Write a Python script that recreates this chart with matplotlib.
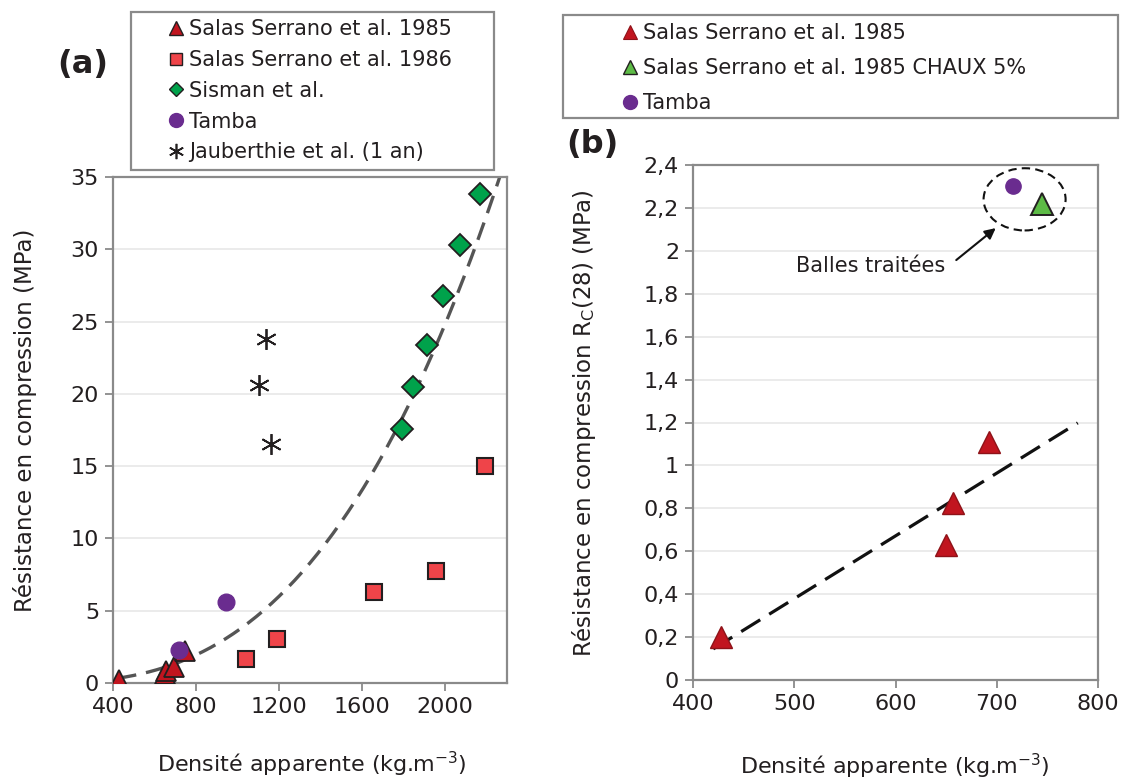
import numpy as np
import matplotlib
matplotlib.use("Agg")
from matplotlib import pyplot as plt
from matplotlib.patches import Ellipse, Rectangle
from matplotlib.lines import Line2D

# ---- panel (a) data ----
salas85_x = [428, 650, 657, 693, 745]
salas85_y = [0.2, 0.63, 0.83, 1.11, 2.22]
salas86_x = [1040, 1191, 1660, 1957, 2194]
salas86_y = [1.65, 3.05, 6.3, 7.75, 15.0]
sisman_x = [1793, 1848, 1914, 1991, 2075, 2170]
sisman_y = [17.6, 20.5, 23.4, 26.8, 30.3, 33.8]
tamba_x = [716, 945]
tamba_y = [2.3, 5.6]
jaub_x = [1138, 1105, 1164]
jaub_y = [23.8, 20.6, 16.5]
# power-law trend line (a): y = coef * (x / x_ref) ** expo
trend_a_coef = 35.0
trend_a_ref = 2265.0
trend_a_expo = 2.78
trend_a_range = (425, 2265)

# ---- panel (b) data ----
b_salas_x = [428, 650, 657, 692]
b_salas_y = [0.2, 0.63, 0.825, 1.11]
b_chaux_x = [745]
b_chaux_y = [2.22]
b_tamba_x = [716]
b_tamba_y = [2.30]
trend_b_range = (420, 780)

TXT = "#231F20"
GREY = "#8A8A8A"
GRID = "#E9E9E9"
RED_DARK = "#C1151F"
RED_SQ = "#EF4449"
GREEN = "#00A24B"
GREEN_L = "#5DBB46"
PURPLE = "#6A2C8F"

plt.rcParams['font.family'] = ['DejaVu Sans']

W, H = 1122, 780
fig = plt.figure(figsize=(W / 100, H / 100), dpi=100)


def fx(px):
    return px / W


def fy(py):
    return 1 - py / H


def style_axes(ax):
    for s in ax.spines.values():
        s.set_color(GREY)
        s.set_linewidth(1.6)
    ax.tick_params(axis='both', direction='out', length=6, width=1.3,
                   color=GREY, labelcolor=TXT, labelsize=16, pad=4)
    ax.grid(axis='y', color=GRID, linewidth=1.3)
    ax.set_axisbelow(True)


# ================= panel (a) =================
ax1 = fig.add_axes([fx(113), fy(683), fx(507) - fx(113), fy(177) - fy(683)])
style_axes(ax1)

xs = np.linspace(trend_a_range[0], trend_a_range[1], 200)
ax1.plot(xs, trend_a_coef * (xs / trend_a_ref) ** trend_a_expo, color="#555555",
         lw=2.4, dashes=(5.5, 3), zorder=2)

h1, = ax1.plot(salas85_x, salas85_y, '^', ms=15, mfc=RED_DARK, mec="#231F20", mew=1.3,
               ls='none', zorder=3, label="Salas Serrano et al. 1985")
h2, = ax1.plot(salas86_x, salas86_y, 's', ms=11, mfc=RED_SQ, mec="#231F20", mew=1.5,
               ls='none', zorder=3, label="Salas Serrano et al. 1986")
h3, = ax1.plot(sisman_x, sisman_y, 'D', ms=11, mfc=GREEN, mec="#231F20", mew=1.3,
               ls='none', zorder=3, label="Sisman et al.")
h4, = ax1.plot(tamba_x, tamba_y, 'o', ms=12, mfc=PURPLE, mec=PURPLE, mew=1,
               ls='none', zorder=4, label="Tamba")
h5, = ax1.plot(jaub_x, jaub_y, marker=(6, 2, 0), ms=15, mec="#231F20", mew=1.3,
               ls='none', zorder=3, label="Jauberthie et al. (1 an)")

ax1.set_xlim(400, 2300)
ax1.set_ylim(0, 35)
ax1.set_xticks([400, 800, 1200, 1600, 2000])
ax1.set_yticks(np.arange(0, 36, 5))

leg_handles = [
    Line2D([], [], marker='^', ms=10, mfc=RED_DARK, mec="#231F20", mew=1, ls='none'),
    Line2D([], [], marker='s', ms=9, mfc=RED_SQ, mec="#231F20", mew=1, ls='none'),
    Line2D([], [], marker='D', ms=7.5, mfc=GREEN, mec="#231F20", mew=1, ls='none'),
    Line2D([], [], marker='o', ms=10, mfc=PURPLE, mec=PURPLE, ls='none'),
    Line2D([], [], marker=(6, 2, 0), ms=11, mec="#231F20", mew=1.2, ls='none'),
]
leg_labels = [h1.get_label(), h2.get_label(), h3.get_label(), h4.get_label(), h5.get_label()]
fig.legend(leg_handles, leg_labels, loc='upper left', bbox_to_anchor=(fx(168), fy(19)),
           frameon=False, fontsize=15, borderpad=0, borderaxespad=0,
           handlelength=0.75, handletextpad=0.25, labelspacing=0.52, labelcolor=TXT)
fig.patches.append(Rectangle((fx(131), fy(170)), fx(494) - fx(131), fy(12) - fy(170),
                             transform=fig.transFigure, fill=False, ec=GREY, lw=1.6))

fig.text(fx(83), fy(65), "(a)", fontsize=23, fontweight='bold', color=TXT,
         ha='center', va='center')
fig.text(fx(25), fy(420), "Résistance en compression (MPa)", rotation=90,
         fontsize=16.5, color=TXT, ha='center', va='center')
fig.text(fx(312), fy(764), "Densité apparente (kg.m$^{-3}$)", fontsize=16,
         color=TXT, ha='center', va='center')

# ================= panel (b) =================
ax2 = fig.add_axes([fx(693), fy(680), fx(1098) - fx(693), fy(165) - fy(680)])
style_axes(ax2)

coef = np.polyfit(b_salas_x, b_salas_y, 1)
xb = np.array(trend_b_range)
ax2.plot(xb, np.polyval(coef, xb), color="#111111", lw=2.3, dashes=(7, 3.3), zorder=2)

g1, = ax2.plot(b_salas_x, b_salas_y, '^', ms=16, mfc=RED_DARK, mec="#8E1218", mew=1,
               ls='none', zorder=3, label="Salas Serrano et al. 1985")
g2, = ax2.plot(b_chaux_x, b_chaux_y, '^', ms=16, mfc=GREEN_L, mec="#231F20", mew=1.4,
               ls='none', zorder=3, label="Salas Serrano et al. 1985 CHAUX 5%")
g3, = ax2.plot(b_tamba_x, b_tamba_y, 'o', ms=11, mfc=PURPLE, mec=PURPLE,
               ls='none', zorder=3, label="Tamba")

ax2.add_patch(Ellipse((727.5, 2.24), 81, 0.29, fill=False, ec="#111111", lw=1.5,
                      ls=(0, (4, 2.5)), zorder=3))
ax2.annotate("", xy=(699, 2.106), xytext=(660, 1.957),
             arrowprops=dict(arrowstyle='-|>', color="#111111", lw=1.5,
                             mutation_scale=16, shrinkA=0, shrinkB=0))
ax2.text(575, 1.93, "Balles traitées", fontsize=15, color=TXT, ha='center', va='center')

ax2.set_xlim(400, 800)
ax2.set_ylim(0, 2.4)
ax2.set_xticks([400, 500, 600, 700, 800])
yt = np.round(np.arange(0, 2.41, 0.2), 1)
ax2.set_yticks(yt)
ax2.set_yticklabels([('%g' % v).replace('.', ',') for v in yt])

leg2_handles = [
    Line2D([], [], marker='^', ms=10, mfc=RED_DARK, mec="#8E1218", mew=0.8, ls='none'),
    Line2D([], [], marker='^', ms=10, mfc=GREEN_L, mec="#231F20", mew=1, ls='none'),
    Line2D([], [], marker='o', ms=10, mfc=PURPLE, mec=PURPLE, ls='none'),
]
fig.legend(leg2_handles, [g1.get_label(), g2.get_label(), g3.get_label()],
           loc='upper left', bbox_to_anchor=(fx(622), fy(23)), frameon=False,
           fontsize=15, borderpad=0, borderaxespad=0, handlelength=0.75,
           handletextpad=0.25, labelspacing=0.72, labelcolor=TXT)
fig.patches.append(Rectangle((fx(563), fy(118)), fx(1118) - fx(563), fy(15) - fy(118),
                             transform=fig.transFigure, fill=False, ec=GREY, lw=1.6))

fig.text(fx(592), fy(145), "(b)", fontsize=23, fontweight='bold', color=TXT,
         ha='center', va='center')
fig.text(fx(584), fy(423), "Résistance en compression R$_\\mathregular{C}$(28) (MPa)",
         rotation=90, fontsize=16.5, color=TXT, ha='center', va='center')
fig.text(fx(895), fy(766), "Densité apparente (kg.m$^{-3}$)", fontsize=16,
         color=TXT, ha='center', va='center')

fig.savefig("out.png", dpi=100)
